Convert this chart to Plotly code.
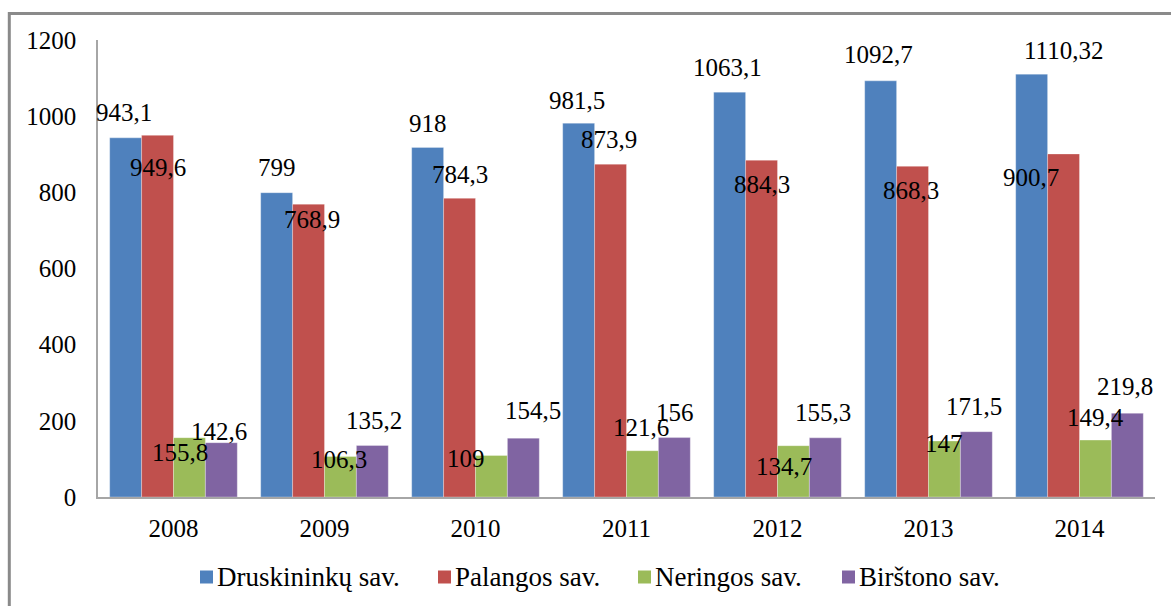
import plotly.graph_objects as go

years = ["2008", "2009", "2010", "2011", "2012", "2013", "2014"]
series_names = ["Druskininkų sav.", "Palangos sav.", "Neringos sav.", "Birštono sav."]
druskininku = [943.1, 799, 918, 981.5, 1063.1, 1092.7, 1110.32]
palangos = [949.6, 768.9, 784.3, 873.9, 884.3, 868.3, 900.7]
neringos = [155.8, 106.3, 109, 121.6, 134.7, 147, 149.4]
birstono = [142.6, 135.2, 154.5, 156, 155.3, 171.5, 219.8]
label_texts = [
    ["943,1", "799", "918", "981,5", "1063,1", "1092,7", "1110,32"],
    ["949,6", "768,9", "784,3", "873,9", "884,3", "868,3", "900,7"],
    ["155,8", "106,3", "109", "121,6", "134,7", "147", "149,4"],
    ["142,6", "135,2", "154,5", "156", "155,3", "171,5", "219,8"],
]
y_ticks = [0, 200, 400, 600, 800, 1000, 1200]

# styling / label placement (pixel offsets relative to each bar's top centre)
colors = ["#4F81BD", "#C0504D", "#9BBB59", "#8064A2"]
label_offsets = [
    [(-2, 25), (0, 25), (0, 24), (-2, 23), (-2, 25), (-2, 26), (32, 24)],
    [(0, -32), (3, -15), (0, 24), (-2, 25), (0, -24), (-2, -24), (-33, -24)],
    [(-9, -15), (-1, -3), (-25, -3), (-1, 23), (-9, -21), (0, -2), (0, 23)],
    [(-2, 11), (2, 25), (10, 28), (1, 25), (-2, 25), (-2, 25), (-2, 27)],
]
# legend layout (pixel left edges of the colour squares), square size, row centre
legend_square_left = [200, 438, 638, 842]
legend_square_size = 13
legend_row_y = 577

FONT = "Liberation Serif"
W, H = 1171, 606
ML, MR, MT, MB = 98, 16, 40, 109
plot_w = W - ML - MR
plot_h = H - MT - MB
bargap = 0.155
cat_w = plot_w / len(years)
bar_w = cat_w * (1 - bargap) / 4


def px_to_paper_x(px):
    return (px - ML) / plot_w


def px_to_paper_y(py):
    return (H - MB - py) / plot_h


all_values = [druskininku, palangos, neringos, birstono]
cat_index = list(range(len(years)))

fig = go.Figure()
for name, vals, col in zip(series_names, all_values, colors):
    fig.add_trace(go.Bar(
        x=cat_index, y=vals, name=name, showlegend=False,
        marker=dict(color=col, line=dict(width=0.6, color="rgba(255,255,255,0.5)")),
    ))

annotations = []
for s, (vals, texts, offs) in enumerate(zip(all_values, label_texts, label_offsets)):
    base_shift = (s - 1.5) * bar_w
    for xi, v, t, (dx, dy) in zip(cat_index, vals, texts, offs):
        annotations.append(dict(
            x=xi, y=v, xref="x", yref="y", text=t, showarrow=False,
            xshift=base_shift + dx, yshift=dy,
            xanchor="center", yanchor="middle",
            font=dict(family=FONT, size=25, color="#000000"),
        ))

shapes = [dict(
    type="rect", xref="paper", yref="paper",
    x0=px_to_paper_x(9.3), x1=px_to_paper_x(W + 5),
    y0=px_to_paper_y(H + 5), y1=px_to_paper_y(13.5),
    line=dict(color="#8a8a8a", width=3), fillcolor="rgba(0,0,0,0)",
    layer="above",
)]

# manual legend
half = legend_square_size / 2
for name, col, left in zip(series_names, colors, legend_square_left):
    shapes.append(dict(
        type="rect", xref="paper", yref="paper",
        x0=px_to_paper_x(left), x1=px_to_paper_x(left + legend_square_size),
        y0=px_to_paper_y(legend_row_y + half), y1=px_to_paper_y(legend_row_y - half),
        line=dict(width=0), fillcolor=col, layer="above",
    ))
    annotations.append(dict(
        x=px_to_paper_x(left + legend_square_size + 2), y=px_to_paper_y(legend_row_y),
        xref="paper", yref="paper", text=name, showarrow=False,
        xanchor="left", yanchor="middle",
        font=dict(family=FONT, size=27, color="#000000"),
    ))

fig.update_layout(
    width=W, height=H,
    margin=dict(l=ML, r=MR, t=MT, b=MB, pad=0, autoexpand=False),
    paper_bgcolor="white", plot_bgcolor="white",
    barmode="group", bargap=bargap, bargroupgap=0,
    font=dict(family=FONT, size=24, color="#000000"),
    showlegend=False,
    annotations=annotations,
    shapes=shapes,
)
fig.update_xaxes(
    tickmode="array", tickvals=cat_index, ticktext=years,
    range=[-0.5, len(years) - 0.5],
    showgrid=False, zeroline=False, showline=True, linecolor="#a6a6a6", linewidth=1.5,
    ticks="", ticklabelstandoff=8, tickfont=dict(family=FONT, size=25),
    fixedrange=True, automargin=False,
)
fig.update_yaxes(
    range=[0, 1200], tickvals=y_ticks, showgrid=False, zeroline=False,
    showline=True, linecolor="#a6a6a6", linewidth=1.5,
    ticks="", ticklabelstandoff=15, tickfont=dict(family=FONT, size=25),
    fixedrange=True, automargin=False,
)

fig.write_html(
    "out.html",
    config={"displayModeBar": False},
    post_script="document.body.style.margin='0';document.body.style.overflow='hidden';",
)
